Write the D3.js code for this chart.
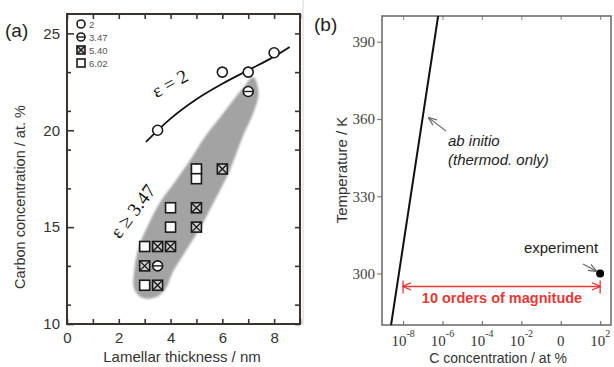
<!DOCTYPE html>
<html>
<head>
<meta charset="utf-8">
<script src="https://cdn.jsdelivr.net/npm/d3@7"></script>
<style>
  body { margin: 0; background: #fff; }
  svg { display: block; }
</style>
</head>
<body>
<script>
// panel (a) data: [lamellar thickness nm, carbon at.%]
var eps2 = [[3.5, 20], [6, 23], [7, 23], [8, 24]];
var eps347 = [[7, 22], [5, 18], [3.5, 13]];
var eps540 = [[6, 18], [5, 16], [5, 15], [3.5, 14], [4, 14], [3, 13], [3.5, 12]];
var eps602 = [[5, 18], [5, 17.5], [4, 16], [4, 15], [3, 14], [3, 12]];
var fitEps2 = [[3.05, 19.4], [4, 20.6], [5, 21.6], [6, 22.4], [7, 23.1], [8, 23.8], [8.6, 24.3]];
var shadeArea = [[7.2, 22.75], [7.4, 21.9], [7.2, 20.9], [6.8, 19.7], [6.29, 17.94], [5.71, 16.39], [5.14, 14.95],
  [4.56, 13.71], [4.09, 12.68], [3.8, 11.8], [3.45, 11.4], [2.9, 11.35], [2.6, 11.8], [2.62, 13.0],
  [2.8, 14.1], [3.13, 15.1], [3.6, 16.3], [4.2, 17.4], [4.75, 18.45], [5.35, 19.7], [6.1, 21.0], [6.75, 22.1]];
var legendLabels = ["2", "3.47", "5.40", "6.02"];
var xTicksA = d3.range(0, 10);
var yMajorA = [10, 15, 20, 25];
var yMinorA = [11, 13, 17, 19, 21, 23];

// panel (b) data: [C concentration at.%, temperature K]
var abInitio = [[2.45e-9, 280], [6e-7, 400]];
var experiment = [[100, 300]];
var ordersRange = [[1e-8, 295], [100, 295]];
var xExpB = [-8, -6, -4, -2, 0, 2];
var xLabB = [["10", "-8"], ["10", "-6"], ["10", "-4"], ["10", "-2"], ["0", ""], ["10", "2"]];
var yTicksB = [300, 330, 360, 390];

var width = 614, height = 367;
var svg = d3.select("body").append("svg").attr("width", width).attr("height", height);

var defs = svg.append("defs");
defs.append("filter").attr("id", "soft").append("feGaussianBlur").attr("stdDeviation", 1.3);
defs.append("marker").attr("id", "arrGray").attr("viewBox", "0 0 10 10").attr("refX", 9).attr("refY", 5)
  .attr("markerWidth", 7).attr("markerHeight", 7).attr("orient", "auto")
  .append("path").attr("d", "M0,1 L10,5 L0,9").attr("fill", "none").attr("stroke", "#666").attr("stroke-width", 1.5);
defs.append("marker").attr("id", "arrRed").attr("viewBox", "0 0 10 10").attr("refX", 9).attr("refY", 5)
  .attr("markerWidth", 6).attr("markerHeight", 6).attr("orient", "auto-start-reverse")
  .append("path").attr("d", "M0,1 L10,5 L0,9").attr("fill", "none").attr("stroke", "#e53935").attr("stroke-width", 1.5);

// separator line between panels
svg.append("line").attr("x1", 303).attr("x2", 303).attr("y1", 0).attr("y2", 325)
  .attr("stroke", "#d4d4d4").attr("stroke-width", 1);

// ---------------- panel (a) ----------------
var xA = d3.scaleLinear().domain([0, 9]).range([67, 300]);
var yA = d3.scaleLinear().domain([10, 26]).range([324, 14]);
var gA = svg.append("g");

gA.append("path")
  .datum(shadeArea)
  .attr("d", d3.line().x(function (d) { return xA(d[0]); }).y(function (d) { return yA(d[1]); }).curve(d3.curveCatmullRomClosed))
  .attr("fill", "#a3a3a3")
  .attr("filter", "url(#soft)");

function styleAxis(g, col, fam, size) {
  g.select(".domain").remove();
  g.selectAll("line").attr("stroke", col).attr("stroke-width", 1.6);
  g.selectAll("text").attr("font-family", fam).attr("font-size", size).attr("fill", "#333");
}

gA.append("g").attr("transform", "translate(0,324)")
  .call(d3.axisBottom(xA).tickValues(xTicksA).tickSize(-5).tickPadding(8)
    .tickFormat(function (d) { return d % 2 === 0 ? d : ""; }))
  .call(styleAxis, "#3a3330", "Liberation Sans, Arial", 15);
gA.append("g").attr("transform", "translate(0,14)")
  .call(d3.axisTop(xA).tickValues(xTicksA).tickSize(-5).tickFormat(""))
  .call(styleAxis, "#3a3330", "Liberation Sans, Arial", 15);
gA.append("g").attr("transform", "translate(67,0)")
  .call(d3.axisLeft(yA).tickValues(yMajorA).tickSize(-7).tickPadding(7))
  .call(styleAxis, "#3a3330", "Liberation Sans, Arial", 15);
gA.append("g").attr("transform", "translate(67,0)")
  .call(d3.axisLeft(yA).tickValues(yMinorA).tickSize(-4).tickFormat(""))
  .call(styleAxis, "#3a3330", "Liberation Sans, Arial", 15);
gA.append("g").attr("transform", "translate(300,0)")
  .call(d3.axisRight(yA).tickValues(yMajorA.concat(yMinorA)).tickSize(-5).tickFormat(""))
  .call(styleAxis, "#3a3330", "Liberation Sans, Arial", 15);
gA.append("rect").attr("x", 67).attr("y", 14).attr("width", 233).attr("height", 310)
  .attr("fill", "none").attr("stroke", "#3a3330").attr("stroke-width", 2);

gA.append("path")
  .datum(fitEps2)
  .attr("d", d3.line().x(function (d) { return xA(d[0]); }).y(function (d) { return yA(d[1]); }).curve(d3.curveMonotoneX))
  .attr("fill", "none").attr("stroke", "#111").attr("stroke-width", 1.8);

function drawMarker(g, kind, x, y, s) {
  var h = s / 2;
  if (kind === "circle" || kind === "theta") {
    g.append("circle").attr("cx", x).attr("cy", y).attr("r", h)
      .attr("fill", "#fff").attr("stroke", "#1a1a1a").attr("stroke-width", 1.6);
    if (kind === "theta") {
      g.append("line").attr("x1", x - h).attr("x2", x + h).attr("y1", y).attr("y2", y)
        .attr("stroke", "#1a1a1a").attr("stroke-width", 1.4);
    }
  } else {
    g.append("rect").attr("x", x - h).attr("y", y - h).attr("width", s).attr("height", s)
      .attr("fill", kind === "xbox" ? "#cfcfcf" : "#fff").attr("stroke", "#1a1a1a").attr("stroke-width", 1.6);
    if (kind === "xbox") {
      g.append("path").attr("d", "M" + (x - h) + "," + (y - h) + "L" + (x + h) + "," + (y + h) +
        "M" + (x + h) + "," + (y - h) + "L" + (x - h) + "," + (y + h))
        .attr("stroke", "#1a1a1a").attr("stroke-width", 1.4);
    }
  }
}

var series = [[eps2, "circle"], [eps347, "theta"], [eps540, "xbox"], [eps602, "square"]];
var gPts = gA.append("g");
series.forEach(function (s) {
  s[0].forEach(function (d) { drawMarker(gPts, s[1], xA(d[0]), yA(d[1]), 10); });
});

// legend
var gLeg = gA.append("g");
legendLabels.forEach(function (lab, i) {
  drawMarker(gLeg, series[i][1], 81, 24 + i * 13, 8);
  gLeg.append("text").attr("x", 89).attr("y", 28 + i * 13).text(lab)
    .attr("font-family", "Liberation Sans, Arial").attr("font-size", 9.5).attr("fill", "#555");
});

gA.append("text").attr("transform", "translate(173,89) rotate(-29)").attr("text-anchor", "middle")
  .attr("font-family", "Liberation Serif, Times New Roman").attr("font-size", 19).attr("fill", "#111")
  .text("\u03b5 = 2");
gA.append("text").attr("transform", "translate(138,215) rotate(-53)").attr("text-anchor", "middle")
  .attr("font-family", "Liberation Serif, Times New Roman").attr("font-size", 19).attr("fill", "#111")
  .text("\u03b5 \u2265 3.47");

gA.append("text").attr("x", 5).attr("y", 37).text("(a)")
  .attr("font-family", "Liberation Sans, Arial").attr("font-size", 19).attr("fill", "#222");
gA.append("text").attr("transform", "translate(25,197) rotate(-90)").attr("text-anchor", "middle")
  .attr("font-family", "Liberation Sans, Arial").attr("font-size", 14.5).attr("fill", "#333")
  .text("Carbon concentration  / at. %");
gA.append("text").attr("x", 182).attr("y", 362).attr("text-anchor", "middle")
  .attr("font-family", "Liberation Sans, Arial").attr("font-size", 15).attr("fill", "#333")
  .text("Lamellar thickness / nm");

// ---------------- panel (b) ----------------
var xB = d3.scaleLog().domain([8.5e-10, 400]).range([382, 612]);
var yB = d3.scaleLinear().domain([280, 400]).range([325, 16]);
var gB = svg.append("g");

var xTickVals = xExpB.map(function (e) { return Math.pow(10, e); });
var axB = gB.append("g").attr("transform", "translate(0,325)")
  .call(d3.axisBottom(xB).tickValues(xTickVals).tickSize(-4).tickFormat(""));
axB.select(".domain").remove();
axB.selectAll("line").attr("stroke", "#777").attr("stroke-width", 1.2);
xExpB.forEach(function (e, i) {
  var t = gB.append("text").attr("x", xB(Math.pow(10, e))).attr("y", 346).attr("text-anchor", "middle")
    .attr("font-family", "Liberation Serif, Times New Roman").attr("font-size", 15).attr("fill", "#333");
  t.append("tspan").text(xLabB[i][0]);
  if (xLabB[i][1]) {
    t.append("tspan").attr("dy", -9).attr("font-size", 10).text(xLabB[i][1]);
  }
});
var axBt = gB.append("g").attr("transform", "translate(0,16)")
  .call(d3.axisTop(xB).tickValues(xTickVals).tickSize(-4).tickFormat(""));
axBt.select(".domain").remove();
axBt.selectAll("line").attr("stroke", "#999").attr("stroke-width", 1.2);

var ayB = gB.append("g").attr("transform", "translate(382,0)")
  .call(d3.axisLeft(yB).tickValues(yTicksB).tickSize(5).tickPadding(2));
ayB.select(".domain").remove();
ayB.selectAll("line").attr("stroke", "#888").attr("stroke-width", 1.2);
ayB.selectAll("text").attr("font-family", "Liberation Serif, Times New Roman").attr("font-size", 15).attr("fill", "#444");

gB.append("rect").attr("x", 382).attr("y", 16).attr("width", 229).attr("height", 309)
  .attr("fill", "none").attr("stroke", "#666").attr("stroke-width", 1.5);

gB.append("path")
  .datum(abInitio)
  .attr("d", d3.line().x(function (d) { return xB(d[0]); }).y(function (d) { return yB(d[1]); }))
  .attr("fill", "none").attr("stroke", "#111").attr("stroke-width", 2);

// red range arrow
var ry = yB(ordersRange[0][1]);
gB.append("line").attr("x1", xB(ordersRange[0][0])).attr("x2", xB(ordersRange[1][0]))
  .attr("y1", ry).attr("y2", ry)
  .attr("stroke", "#e53935").attr("stroke-width", 1.5)
  .attr("marker-start", "url(#arrRed)").attr("marker-end", "url(#arrRed)");
ordersRange.forEach(function (d) {
  gB.append("line").attr("x1", xB(d[0])).attr("x2", xB(d[0])).attr("y1", ry - 6).attr("y2", ry + 7)
    .attr("stroke", "#e53935").attr("stroke-width", 1.3);
});
gB.append("text").attr("x", 502).attr("y", 303).attr("text-anchor", "middle")
  .attr("font-family", "Liberation Sans, Arial").attr("font-weight", "bold").attr("font-size", 14.5)
  .attr("fill", "#e53935").text("10 orders of magnitude");

gB.selectAll("circle.exp").data(experiment).enter().append("circle")
  .attr("cx", function (d) { return xB(d[0]); }).attr("cy", function (d) { return yB(d[1]); })
  .attr("r", 4).attr("fill", "#000");
gB.append("text").attr("x", 561).attr("y", 253).attr("text-anchor", "middle")
  .attr("font-family", "Liberation Sans, Arial").attr("font-size", 15).attr("fill", "#222").text("experiment");
gB.append("line").attr("x1", 583).attr("y1", 264).attr("x2", 596).attr("y2", 271)
  .attr("stroke", "#666").attr("stroke-width", 1.2).attr("marker-end", "url(#arrGray)");

gB.append("line").attr("x1", 446).attr("y1", 131).attr("x2", 429).attr("y2", 118)
  .attr("stroke", "#777").attr("stroke-width", 1.2).attr("marker-end", "url(#arrGray)");
gB.append("text").attr("x", 448).attr("y", 146)
  .attr("font-family", "Liberation Sans, Arial").attr("font-style", "italic").attr("font-size", 15)
  .attr("fill", "#222").text("ab initio");
gB.append("text").attr("x", 448).attr("y", 165)
  .attr("font-family", "Liberation Sans, Arial").attr("font-style", "italic").attr("font-size", 15)
  .attr("fill", "#222").text("(thermod. only)");

gB.append("text").attr("x", 314).attr("y", 31).text("(b)")
  .attr("font-family", "Liberation Sans, Arial").attr("font-size", 19).attr("fill", "#222");
gB.append("text").attr("transform", "translate(347,170) rotate(-90)").attr("text-anchor", "middle")
  .attr("font-family", "Liberation Sans, Arial").attr("font-size", 15).attr("fill", "#333")
  .text("Temperature / K");
gB.append("text").attr("x", 498).attr("y", 363).attr("text-anchor", "middle")
  .attr("font-family", "Liberation Sans, Arial").attr("font-size", 14).attr("fill", "#333")
  .text("C concentration / at %");
</script>
</body>
</html>
